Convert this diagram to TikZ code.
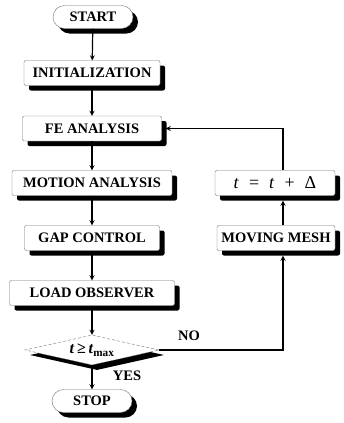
\documentclass[tikz,border=0pt]{standalone}
\usepackage{fontspec}
\setmainfont{Liberation Serif}
\usetikzlibrary{shapes.geometric, arrows, shadows}

\begin{document}
\begin{tikzpicture}[x=1pt, y=-1pt,
    box/.style={rectangle, draw=black!55, thin, fill=white, rounded corners=2pt, minimum height=25pt, inner sep=3pt, font=\bfseries\fontsize{14.5}{16}\selectfont, drop shadow={shadow xshift=5pt, shadow yshift=-5pt, opacity=1, fill=black}},
    terminal/.style={box, rounded corners=11.5pt, minimum height=23pt, minimum width=80pt},
    decision/.style={diamond, draw=black!55, thin, densely dashed, fill=white, aspect=4.4, minimum width=134pt, minimum height=30pt, inner sep=0pt, font=\bfseries\fontsize{16}{17}\selectfont, drop shadow={shadow xshift=5pt, shadow yshift=-5pt, opacity=1, fill=black}},
    flow/.style={->, >=stealth, line width=1.2pt},
    lbl/.style={font=\bfseries\fontsize{14.5}{16}\selectfont}
]
\useasboundingbox (0,0) rectangle (344,423);

% Main column
\node[terminal] at (93,17) (start) {START};
\node[box, minimum width=136pt] at (92,73) (init) {INITIALIZATION};
\node[box, minimum width=139pt] at (92,128.5) (fe) {FE ANALYSIS};
\node[box, minimum width=160pt] at (92,183) (motion) {MOTION ANALYSIS};
\node[box, minimum width=135pt] at (92,238) (gap) {GAP CONTROL};
\node[box, minimum width=165pt] at (92,293) (load) {LOAD OBSERVER};
\node[decision] at (92,350) (cond) {\textit{t}\,≥\,\textit{t}\textsubscript{max}};
\node[terminal] at (92,401) (stop) {STOP};

% Time step column
\node[box, minimum width=120pt, font=\fontsize{18}{19}\selectfont] at (275,183) (tbox) {\textit{t}\hspace{10pt}=\hspace{10pt}\textit{t}\hspace{10pt}+\hspace{10pt}Δ};
\node[box, minimum width=118pt] at (276,238) (mesh) {MOVING MESH};
\coordinate (loopx) at (283,0);

% Arrows
\draw[flow] (start) -- (init);
\draw[flow] (init) -- (fe);
\draw[flow] (fe) -- (motion);
\draw[flow] (motion) -- (gap);
\draw[flow] (gap) -- (load);
\draw[flow] (load) -- (cond);
\draw[flow] (cond) -- (stop);
\draw[flow, shorten >=5pt] (cond.east) -| (mesh.south -| loopx);
\draw[flow, shorten >=5pt] (mesh.north -| loopx) -- (tbox.south -| loopx);
\draw[flow, shorten >=4pt] (tbox.north -| loopx) |- (fe.east);

% Labels
\node[lbl] at (189,336) (no) {NO};
\node[lbl] at (127,376) (yes) {YES};

\end{tikzpicture}
\end{document}
